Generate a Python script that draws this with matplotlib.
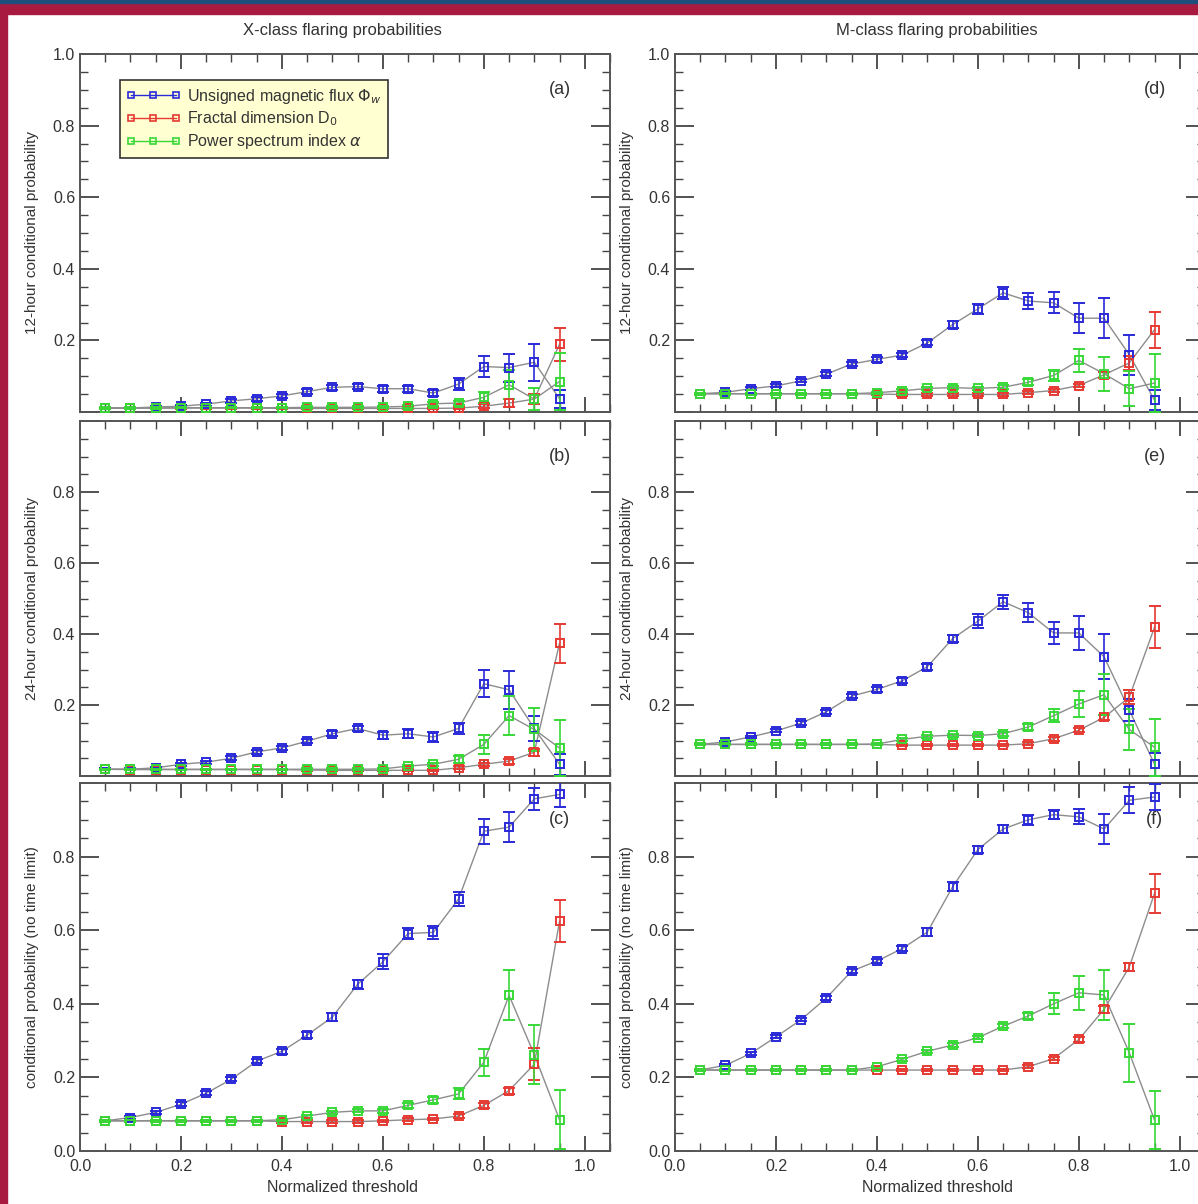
import matplotlib
matplotlib.use('Agg')
import matplotlib.pyplot as plt
from matplotlib.lines import Line2D
from matplotlib.patches import Rectangle
from matplotlib.ticker import MultipleLocator

plt.rcParams['font.family'] = ['Liberation Sans', 'DejaVu Sans']
plt.rcParams['mathtext.fontset'] = 'dejavusans'

thresholds = [0.05, 0.10, 0.15, 0.20, 0.25, 0.30, 0.35, 0.40, 0.45, 0.50,
              0.55, 0.60, 0.65, 0.70, 0.75, 0.80, 0.85, 0.90, 0.95]

# X-class, 12 hours
a_flux = [0.011, 0.011, 0.014, 0.016, 0.022, 0.031, 0.037, 0.045, 0.057, 0.069,
          0.071, 0.065, 0.065, 0.053, 0.078, 0.127, 0.124, 0.139, 0.037]
a_flux_err = [0.002, 0.002, 0.003, 0.003, 0.004, 0.005, 0.005, 0.006, 0.006, 0.007,
              0.007, 0.008, 0.008, 0.009, 0.017, 0.030, 0.039, 0.052, 0.025]
a_frac = [0.011, 0.011, 0.011, 0.011, 0.011, 0.011, 0.011, 0.010, 0.010, 0.010,
          0.010, 0.010, 0.010, 0.010, 0.011, 0.016, 0.025, 0.036, 0.189]
a_frac_err = [0.002, 0.002, 0.002, 0.002, 0.002, 0.002, 0.002, 0.002, 0.002, 0.003,
              0.003, 0.003, 0.003, 0.003, 0.004, 0.006, 0.010, 0.015, 0.046]
a_alpha = [0.011, 0.011, 0.011, 0.012, 0.012, 0.012, 0.012, 0.012, 0.013, 0.013,
           0.013, 0.014, 0.016, 0.023, 0.025, 0.041, 0.076, 0.036, 0.085]
a_alpha_err = [0.002, 0.002, 0.002, 0.002, 0.002, 0.002, 0.002, 0.002, 0.003, 0.003,
               0.003, 0.003, 0.004, 0.005, 0.006, 0.015, 0.040, 0.030, 0.080]

# X-class, 24 hours
b_flux = [0.019, 0.019, 0.023, 0.033, 0.039, 0.050, 0.068, 0.079, 0.098, 0.119,
          0.134, 0.115, 0.119, 0.110, 0.134, 0.260, 0.243, 0.134, 0.033]
b_flux_err = [0.003, 0.003, 0.003, 0.004, 0.004, 0.005, 0.005, 0.006, 0.006, 0.007,
              0.007, 0.010, 0.012, 0.013, 0.015, 0.038, 0.054, 0.035, 0.030]
b_frac = [0.019, 0.018, 0.018, 0.018, 0.018, 0.018, 0.018, 0.018, 0.017, 0.016,
          0.016, 0.016, 0.016, 0.016, 0.023, 0.033, 0.042, 0.067, 0.374]
b_frac_err = [0.002, 0.002, 0.002, 0.002, 0.002, 0.002, 0.002, 0.002, 0.002, 0.003,
              0.003, 0.003, 0.003, 0.003, 0.004, 0.005, 0.007, 0.010, 0.055]
b_alpha = [0.019, 0.019, 0.019, 0.019, 0.019, 0.019, 0.019, 0.019, 0.019, 0.019,
           0.019, 0.020, 0.028, 0.033, 0.047, 0.089, 0.170, 0.131, 0.079]
b_alpha_err = [0.002, 0.002, 0.002, 0.002, 0.002, 0.002, 0.002, 0.002, 0.003, 0.003,
               0.003, 0.003, 0.004, 0.005, 0.010, 0.026, 0.054, 0.060, 0.079]

# X-class, no time limit
c_flux = [0.082, 0.091, 0.105, 0.127, 0.157, 0.195, 0.244, 0.271, 0.315, 0.364,
          0.453, 0.514, 0.591, 0.594, 0.685, 0.869, 0.880, 0.957, 0.969]
c_flux_err = [0.003, 0.004, 0.004, 0.005, 0.005, 0.006, 0.006, 0.007, 0.008, 0.010,
              0.013, 0.020, 0.015, 0.018, 0.020, 0.034, 0.040, 0.030, 0.035]
c_frac = [0.082, 0.082, 0.082, 0.082, 0.082, 0.082, 0.082, 0.080, 0.080, 0.080,
          0.080, 0.082, 0.085, 0.087, 0.095, 0.124, 0.164, 0.236, 0.624]
c_frac_err = [0.003, 0.003, 0.003, 0.003, 0.003, 0.003, 0.003, 0.003, 0.003, 0.003,
              0.003, 0.003, 0.004, 0.004, 0.005, 0.006, 0.008, 0.043, 0.057]
c_alpha = [0.082, 0.082, 0.082, 0.082, 0.082, 0.082, 0.082, 0.085, 0.095, 0.105,
           0.109, 0.109, 0.124, 0.139, 0.155, 0.241, 0.423, 0.262, 0.085]
c_alpha_err = [0.003, 0.003, 0.003, 0.003, 0.003, 0.003, 0.003, 0.003, 0.004, 0.004,
               0.004, 0.005, 0.006, 0.008, 0.015, 0.036, 0.068, 0.080, 0.080]

# M-class, 12 hours
d_flux = [0.051, 0.055, 0.065, 0.073, 0.087, 0.106, 0.134, 0.147, 0.159, 0.193,
          0.244, 0.288, 0.333, 0.310, 0.305, 0.262, 0.262, 0.160, 0.033]
d_flux_err = [0.003, 0.003, 0.004, 0.004, 0.004, 0.005, 0.005, 0.006, 0.006, 0.007,
              0.010, 0.015, 0.017, 0.023, 0.029, 0.042, 0.056, 0.056, 0.028]
d_frac = [0.051, 0.051, 0.051, 0.051, 0.051, 0.051, 0.051, 0.050, 0.049, 0.049,
          0.049, 0.049, 0.049, 0.054, 0.060, 0.074, 0.104, 0.137, 0.230]
d_frac_err = [0.003, 0.003, 0.003, 0.003, 0.003, 0.003, 0.003, 0.003, 0.003, 0.003,
              0.003, 0.003, 0.003, 0.004, 0.004, 0.005, 0.008, 0.020, 0.050]
d_alpha = [0.051, 0.051, 0.051, 0.051, 0.051, 0.051, 0.051, 0.054, 0.059, 0.066,
           0.068, 0.066, 0.069, 0.083, 0.102, 0.144, 0.107, 0.065, 0.081]
d_alpha_err = [0.003, 0.003, 0.003, 0.003, 0.003, 0.003, 0.003, 0.003, 0.004, 0.004,
               0.004, 0.005, 0.006, 0.008, 0.015, 0.031, 0.048, 0.049, 0.080]

# M-class, 24 hours
e_flux = [0.089, 0.096, 0.110, 0.127, 0.149, 0.181, 0.225, 0.244, 0.268, 0.308,
          0.387, 0.436, 0.491, 0.460, 0.403, 0.403, 0.336, 0.186, 0.033]
e_flux_err = [0.003, 0.003, 0.004, 0.004, 0.005, 0.005, 0.006, 0.006, 0.007, 0.008,
              0.010, 0.020, 0.020, 0.026, 0.032, 0.047, 0.063, 0.030, 0.033]
e_frac = [0.089, 0.089, 0.089, 0.089, 0.089, 0.089, 0.089, 0.089, 0.087, 0.087,
          0.087, 0.087, 0.087, 0.091, 0.105, 0.129, 0.165, 0.222, 0.419]
e_frac_err = [0.003, 0.003, 0.003, 0.003, 0.003, 0.003, 0.003, 0.003, 0.003, 0.003,
              0.003, 0.003, 0.003, 0.004, 0.005, 0.006, 0.008, 0.020, 0.059]
e_alpha = [0.089, 0.089, 0.089, 0.089, 0.089, 0.089, 0.089, 0.090, 0.103, 0.112,
           0.115, 0.114, 0.119, 0.138, 0.170, 0.203, 0.229, 0.131, 0.081]
e_alpha_err = [0.003, 0.003, 0.003, 0.003, 0.003, 0.003, 0.003, 0.003, 0.004, 0.004,
               0.004, 0.005, 0.006, 0.008, 0.018, 0.037, 0.057, 0.059, 0.080]

# M-class, no time limit
f_flux = [0.220, 0.233, 0.265, 0.310, 0.357, 0.416, 0.489, 0.516, 0.550, 0.595,
          0.718, 0.819, 0.875, 0.900, 0.914, 0.908, 0.875, 0.953, 0.962]
f_flux_err = [0.003, 0.003, 0.004, 0.004, 0.005, 0.005, 0.006, 0.006, 0.007, 0.010,
              0.012, 0.010, 0.010, 0.013, 0.012, 0.020, 0.042, 0.035, 0.036]
f_frac = [0.220, 0.220, 0.220, 0.220, 0.220, 0.220, 0.220, 0.220, 0.220, 0.220,
          0.220, 0.220, 0.220, 0.229, 0.251, 0.303, 0.385, 0.500, 0.700]
f_frac_err = [0.003, 0.003, 0.003, 0.003, 0.003, 0.003, 0.003, 0.003, 0.003, 0.003,
              0.003, 0.003, 0.003, 0.004, 0.005, 0.006, 0.010, 0.010, 0.054]
f_alpha = [0.220, 0.220, 0.220, 0.220, 0.220, 0.220, 0.220, 0.229, 0.249, 0.271,
           0.288, 0.308, 0.339, 0.367, 0.400, 0.430, 0.424, 0.267, 0.084]
f_alpha_err = [0.003, 0.003, 0.003, 0.003, 0.003, 0.003, 0.003, 0.003, 0.004, 0.004,
               0.005, 0.005, 0.006, 0.008, 0.029, 0.046, 0.067, 0.079, 0.079]

series_names = [r'Unsigned magnetic flux $\Phi_w$',
                r'Fractal dimension D$_0$',
                r'Power spectrum index $\alpha$']
series_colors = ['#2a2ad8', '#e63a32', '#38d838']

col_titles = ['X-class flaring probabilities', 'M-class flaring probabilities']
row_ylabels = ['12-hour conditional probability',
               '24-hour conditional probability',
               'conditional probability (no time limit)']
xlabel_text = 'Normalized threshold'

TEXT = '#333333'
W, H = 1198, 1204


def style_axes(ax, row):
    ax.set_xlim(0, 1.05)
    ax.set_ylim(0, 1.0)
    for sp in ax.spines.values():
        sp.set_color('#555555')
        sp.set_linewidth(1.4)
    ax.xaxis.set_major_locator(MultipleLocator(0.2))
    ax.xaxis.set_minor_locator(MultipleLocator(0.05))
    ax.yaxis.set_major_locator(MultipleLocator(0.2))
    ax.yaxis.set_minor_locator(MultipleLocator(0.05))
    ax.tick_params(which='both', direction='in', top=True, right=True,
                   colors='#444444', labelcolor=TEXT, labelsize=11.5)
    ax.tick_params(axis='y', which='major', length=14, width=1.3)
    ax.tick_params(axis='x', which='major', length=11, width=1.3)
    ax.tick_params(which='minor', length=5.5, width=1.0)

    yticks = [0.0, 0.2, 0.4, 0.6, 0.8, 1.0]
    ax.set_yticks(yticks)
    labels = ['%.1f' % t for t in yticks]
    if row == 0:
        labels[0] = ''
    elif row == 1:
        labels[0] = ''
        labels[-1] = ''
    else:
        labels[-1] = ''
    ax.set_yticklabels(labels)

    if row < 2:
        ax.set_xticklabels([])
    else:
        ax.set_xticks([0.0, 0.2, 0.4, 0.6, 0.8, 1.0])
        ax.set_xticklabels(['0.0', '0.2', '0.4', '0.6', '0.8', '1.0'])
    ax.tick_params(axis='x', pad=6)


def draw_panel(ax, data, tag):
    for (vals, errs), color in zip(data, series_colors):
        ax.plot(thresholds, vals, color='#8c8c8c', lw=1.0, zorder=2)
        ax.errorbar(thresholds, vals, yerr=errs, fmt='s', ms=5.5, mfc='none',
                    mec=color, mew=1.4, ecolor=color, elinewidth=1.2,
                    capsize=4, capthick=1.1, zorder=3)
    ax.text(0.905, 0.9, tag, transform=ax.transAxes, ha='center',
            va='center', fontsize=13, color=TEXT)


def add_legend(ax):
    handles = [Line2D([0], [0], color=c, lw=1.0, marker='s', ms=5,
                      mfc='none', mew=1.2) for c in series_colors]
    leg = ax.legend(handles, series_names, loc='upper left',
                    bbox_to_anchor=(0.075, 0.927), numpoints=3,
                    handlelength=3.4, handletextpad=0.4, labelspacing=0.25,
                    borderpad=0.4, fontsize=11.5, fancybox=False,
                    framealpha=1.0, borderaxespad=0)
    frame = leg.get_frame()
    frame.set_facecolor('#ffffd2')
    frame.set_edgecolor('#333333')
    frame.set_linewidth(1.2)
    for t in leg.get_texts():
        t.set_color(TEXT)


def run():
    fig = plt.figure(figsize=(W / 100, H / 100), dpi=100)

    # frame bands round the figure
    fig.add_artist(Rectangle((0, 0), 7 / W, 1, transform=fig.transFigure,
                             color='#a81a40', zorder=10))
    fig.add_artist(Rectangle((0, 1 - 14 / H), 1, 14 / H, transform=fig.transFigure,
                             color='#a81a40', zorder=10))
    fig.add_artist(Rectangle((0, 1 - 3 / H), 1, 3 / H, transform=fig.transFigure,
                             color='#1d4f7c', zorder=11))

    col_left = [80, 675]
    col_width = 530
    rows = [(54, 412), (421, 776), (783, 1151)]

    panels = [
        [([a_flux, a_flux_err], [a_frac, a_frac_err], [a_alpha, a_alpha_err]), '(a)'],
        [([b_flux, b_flux_err], [b_frac, b_frac_err], [b_alpha, b_alpha_err]), '(b)'],
        [([c_flux, c_flux_err], [c_frac, c_frac_err], [c_alpha, c_alpha_err]), '(c)'],
        [([d_flux, d_flux_err], [d_frac, d_frac_err], [d_alpha, d_alpha_err]), '(d)'],
        [([e_flux, e_flux_err], [e_frac, e_frac_err], [e_alpha, e_alpha_err]), '(e)'],
        [([f_flux, f_flux_err], [f_frac, f_frac_err], [f_alpha, f_alpha_err]), '(f)'],
    ]

    for col in range(2):
        for row in range(3):
            top, bottom = rows[row]
            ax = fig.add_axes([col_left[col] / W, 1 - bottom / H,
                               col_width / W, (bottom - top) / H])
            style_axes(ax, row)
            data, tag = panels[col * 3 + row]
            draw_panel(ax, data, tag)
            ax.set_ylabel(row_ylabels[row], fontsize=11, color=TEXT)
            ax.yaxis.set_label_coords(-41 / col_width, 0.5)
            if row == 0 and col == 0:
                add_legend(ax)
            if row == 2:
                fig.text((col_left[col] + 0.5 * col_width * 0.99) / W, 1 - 1188 / H,
                         xlabel_text, ha='center', va='center', fontsize=11.5,
                         color=TEXT)
        fig.text((col_left[col] + 262) / W, 1 - 31 / H, col_titles[col],
                 ha='center', va='center', fontsize=12, color=TEXT)

    fig.savefig('out.png', dpi=100)


if __name__ == '__main__':
    run()
